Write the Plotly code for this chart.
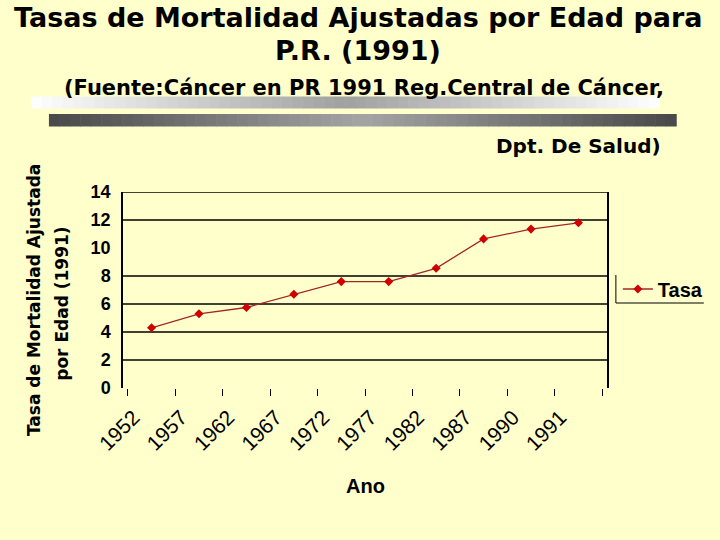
import plotly.graph_objects as go

# ---- data ----
years = ["1952", "1957", "1962", "1967", "1972", "1977", "1982", "1987", "1990", "1991"]
tasa = [4.3, 5.3, 5.75, 6.7, 7.6, 7.6, 8.55, 10.65, 11.35, 11.8]
grid_levels = [2, 4, 6, 8, 12, 14]
y_ticks = [0, 2, 4, 6, 8, 10, 12, 14]

W, H = 720, 540
L, R, T, B = 123, 107, 192, 152
PW, PH = W - L - R, H - T - B


def px(x):
    return (x - L) / PW


def py(y):
    return (H - B - y) / PH


BG = "#FFFFCC"
FONT = "Arial, Liberation Sans, sans-serif"
WIDE = "DejaVu Sans, sans-serif"

fig = go.Figure()
fig.add_trace(go.Scatter(
    x=years, y=tasa, name="Tasa", mode="lines+markers",
    line=dict(color="#A02828", width=1.3),
    marker=dict(symbol="diamond", size=7, color="#D00000"),
))

shapes = []
for g in grid_levels:
    shapes.append(dict(type="line", xref="paper", yref="y", x0=0, x1=1, y0=g, y1=g,
                       line=dict(color="black", width=1.5), layer="below"))


def mix(c1, c2, t):
    return "rgb(%d,%d,%d)" % tuple(round(a + (b - a) * t) for a, b in zip(c1, c2))


N = 60
for (x0, x1, y0, y1, edge, mid) in [
    (30, 666, 96.5, 108.5, (255, 255, 255), (160, 160, 160)),
    (48, 683, 114, 126.5, (72, 72, 72), (165, 165, 165)),
]:
    for i in range(N):
        a = x0 + (x1 - x0) * i / N
        b = x0 + (x1 - x0) * (i + 1) / N
        c = (i + 0.5) / N
        t = 1 - abs(c - 0.5) * 2
        shapes.append(dict(type="rect", xref="paper", yref="paper",
                           x0=px(a), x1=px(b + 0.6), y0=py(y1), y1=py(y0),
                           fillcolor=mix(edge, mid, t), line=dict(width=0), layer="below"))

shapes.append(dict(type="line", xref="paper", yref="paper", x0=px(622), x1=px(622),
                   y0=py(275), y1=py(303), line=dict(color="black", width=1)))
shapes.append(dict(type="line", xref="paper", yref="paper", x0=px(622), x1=px(711),
                   y0=py(303), y1=py(303), line=dict(color="black", width=1)))

annotations = [
    dict(text="<b>Tasas de Mortalidad Ajustadas por Edad para</b>", x=px(361), y=py(17),
         font=dict(size=27, family=WIDE, color="black")),
    dict(text="<b>P.R. (1991)</b>", x=px(361), y=py(50),
         font=dict(size=27, family=WIDE, color="black")),
    dict(text="<b>(Fuente:Cáncer en PR 1991 Reg.Central de Cáncer,</b>", x=px(367), y=py(88),
         font=dict(size=21, family=WIDE, color="black")),
    dict(text="<b>Dpt. De Salud)</b>", x=px(670), y=py(146), xanchor="right",
         font=dict(size=20, family=WIDE, color="black")),
    dict(text="<b>Tasa de Mortalidad Ajustada</b>", x=px(33), y=py(300), textangle=-90,
         font=dict(size=17, family=WIDE, color="black")),
    dict(text="<b>por Edad (1991)</b>", x=px(61), y=py(304), textangle=-90,
         font=dict(size=17, family=WIDE, color="black")),
    dict(text="<b>Ano</b>", x=px(368), y=py(486),
         font=dict(size=20, family=FONT, color="black")),
]
for a in annotations:
    a.update(xref="paper", yref="paper", showarrow=False)
    a.setdefault("xanchor", "center")
    a.setdefault("yanchor", "middle")

fig.update_layout(
    width=W, height=H,
    margin=dict(l=L, r=R, t=T, b=B),
    paper_bgcolor=BG, plot_bgcolor=BG,
    font=dict(family=FONT, color="black"),
    shapes=shapes, annotations=annotations,
    showlegend=True,
    legend=dict(x=px(624), y=py(289), xanchor="left", yanchor="middle",
                bgcolor="rgba(0,0,0,0)", borderwidth=0,
                font=dict(size=20, family=FONT, color="black", weight="bold"),
                itemwidth=30),
    xaxis=dict(type="category", tickson="boundaries", ticks="outside", ticklen=7,
               tickcolor="black", tickwidth=1, showgrid=False, showline=False,
               zeroline=False, tickangle=-45, ticklabelshift=-18, ticklabelstandoff=12,
               tickfont=dict(size=21, family=FONT, color="black")),
    yaxis=dict(range=[0, 14], tickvals=y_ticks, showgrid=False, zeroline=False,
               showline=True, linecolor="black", linewidth=1.5, mirror=True,
               ticks="", ticklabelstandoff=7,
               tickfont=dict(size=18, family=FONT, color="black", weight="bold")),
)

fig.write_html("out.html", config={"displayModeBar": False},
               post_script="document.body.style.margin='0';document.body.style.background='#FFFFCC';")
